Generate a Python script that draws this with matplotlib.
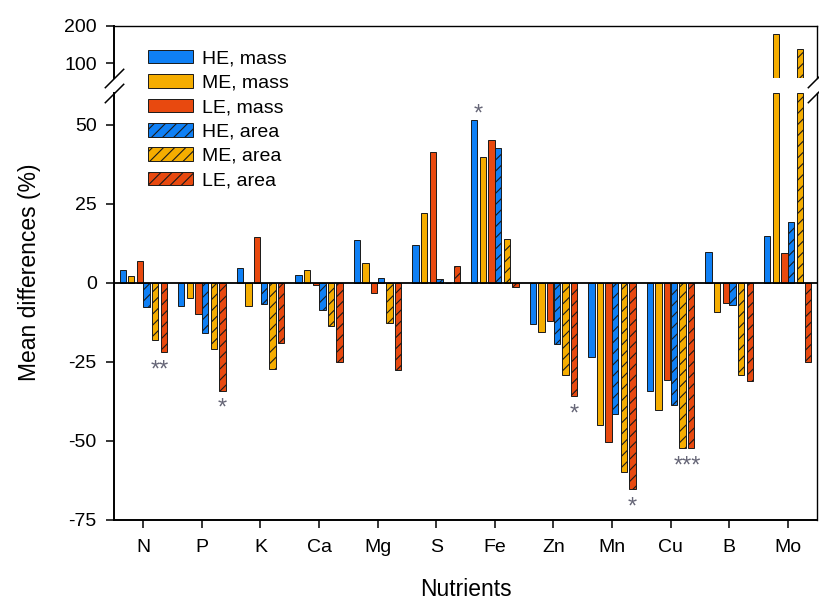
import numpy as np
import matplotlib
matplotlib.use('Agg')
import matplotlib.pyplot as plt
from matplotlib.patches import Patch

plt.rcParams['font.family'] = ['Liberation Sans', 'DejaVu Sans']
plt.rcParams['hatch.linewidth'] = 0.8
plt.rcParams['axes.unicode_minus'] = False

nutrients = ['N', 'P', 'K', 'Ca', 'Mg', 'S', 'Fe', 'Zn', 'Mn', 'Cu', 'B', 'Mo']

# mean differences (%) per nutrient
he_mass = [3.9, -7.3, 4.7, 2.5, 13.6, 12.0, 51.6, -13.0, -23.6, -34.1, 9.7, 14.8]
me_mass = [2.2, -4.9, -7.3, 4.0, 6.1, 22.2, 39.8, -15.6, -45.0, -40.3, -9.1, 178.0]
le_mass = [7.0, -9.9, 14.5, -0.8, -3.1, 41.2, 45.0, -12.1, -50.4, -30.8, -6.4, 9.4]
he_area = [-7.8, -15.9, -6.7, -8.5, 1.4, 1.2, 42.7, -19.5, -41.6, -38.6, -7.1, 19.2]
me_area = [-18.0, -21.0, -27.3, -13.6, -12.8, 0.0, 13.8, -29.3, -59.9, -52.3, -29.3, 138.0]
le_area = [-21.9, -34.1, -18.9, -25.2, -27.5, 5.2, -1.4, -35.8, -65.3, -52.1, -30.9, -25.2]

series = [he_mass, me_mass, le_mass, he_area, me_area, le_area]
labels = ['HE, mass', 'ME, mass', 'LE, mass', 'HE, area', 'ME, area', 'LE, area']

# significance marks: nutrient, series the mark belongs to, text
sig_nutrient = ['N', 'P', 'Fe', 'Zn', 'Mn', 'Cu']
sig_series = [(4, 5), (5,), (0, 1), (5,), (5,), (4, 5)]
sig_marks = ['**', '*', '*', '*', '*', '***']

blue, yellow, red = '#0f80f5', '#f5ad00', '#e8490f'
colors = [blue, yellow, red, blue, yellow, red]
hatches = ['', '', '', '///', '///', '///']
offsets = np.array([-0.352, -0.205, -0.057, 0.057, 0.205, 0.352])
width = 0.108
brk = 60  # axis break between the two panels

fig = plt.figure(figsize=(8.2, 6.01), dpi=100)
W, H = 820, 601
ax = fig.add_axes([114 / W, 1 - 520 / H, 703 / W, 427 / H])
ax_top = fig.add_axes([114 / W, 1 - 78 / H, 703 / W, 52 / H], sharex=ax)

x = np.arange(len(nutrients))
for vals, c, h, off in zip(series, colors, hatches, offsets):
    vals = np.asarray(vals)
    ax.bar(x + off, np.minimum(vals, brk), width, color=c, edgecolor='#1a1a1a',
           linewidth=0.7, hatch=h, zorder=2)
    high = vals > brk
    if high.any():
        ax_top.bar(x[high] + off, vals[high] - brk, width, bottom=brk, color=c,
                   edgecolor='#1a1a1a', linewidth=0.7, hatch=h, zorder=2)

ax.axhline(0, color='k', lw=1.3, zorder=3)

# significance asterisks under/over the bars they refer to
for nut, idx, mark in zip(sig_nutrient, sig_series, sig_marks):
    i = nutrients.index(nut)
    vals = [series[k][i] for k in idx]
    xm = i + np.mean([offsets[k] for k in idx])
    if min(vals) < 0:
        y, dy = min(vals), -17.5
    else:
        y, dy = max(vals), -1
    ax.annotate(mark, (xm, y), xytext=(0, dy), textcoords='offset points',
                ha='center', va='baseline', fontsize=17, color='#666677')

ax.set_xlim(-0.5, len(nutrients) - 0.5)
ax.set_ylim(-75, brk)
ax_top.set_ylim(brk, 200)
ax.set_yticks([-75, -50, -25, 0, 25, 50])
ax_top.set_yticks([100, 200])
ax.set_xticks(x)
ax.set_xticklabels(nutrients)

ax.spines['top'].set_visible(False)
ax_top.spines['bottom'].set_visible(False)
for a in (ax, ax_top):
    a.spines['left'].set_linewidth(1.4)
    a.spines['right'].set_linewidth(1.0)
    a.tick_params(axis='y', direction='out', length=5.5, width=1.1,
                  labelsize=14, pad=7)
ax.spines['bottom'].set_linewidth(1.4)
ax_top.spines['top'].set_linewidth(1.0)
ax.tick_params(axis='x', direction='out', length=5.5, width=1.1,
               labelsize=14, pad=8)
ax_top.tick_params(axis='x', bottom=False, labelbottom=False)

# break marks on both spines
kw = dict(marker=[(-1, -1), (1, 1)], markersize=14, linestyle='none',
          color='k', mec='k', mew=1.1, clip_on=False)
ax_top.plot([0, 1], [0, 0], transform=ax_top.transAxes, **kw)
ax.plot([0, 1], [1, 1], transform=ax.transAxes, **kw)

ax.set_xlabel('Nutrients', fontsize=16.5, labelpad=16)
fig.text(30 / W, 1 - 272 / H, 'Mean differences (%)', rotation=90,
         ha='center', va='center', fontsize=16.5)

handles = [Patch(facecolor=c, edgecolor='#1a1a1a', linewidth=0.7, hatch=h)
           for c, h in zip(colors, hatches)]
fig.legend(handles, labels, loc='upper left',
           bbox_to_anchor=(147.7 / W, 1 - 50 / H), frameon=False,
           fontsize=14, handlelength=2.32, handleheight=0.69,
           handletextpad=0.48, labelspacing=0.35, borderpad=0,
           borderaxespad=0)

fig.savefig('out.png', dpi=100)
